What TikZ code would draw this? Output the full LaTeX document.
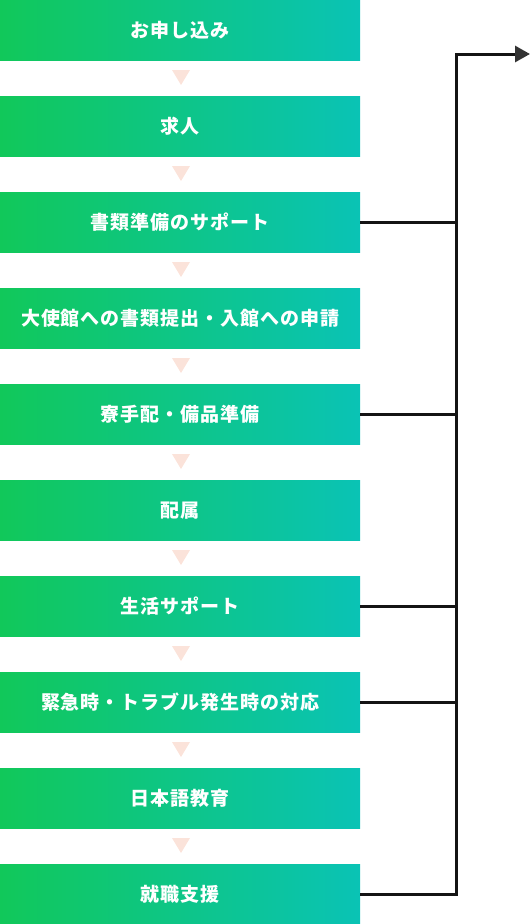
\documentclass[tikz,border=0pt]{standalone}
\usepackage{fontspec}
\newfontfamily\jp[LetterSpace=5]{Noto Sans CJK JP}
\usetikzlibrary{arrows.meta}
\definecolor{gL}{HTML}{11C85A}
\definecolor{gR}{HTML}{0AC3B5}
\definecolor{tri}{HTML}{FBE3DA}
\definecolor{ln}{HTML}{141414}
\definecolor{tip}{HTML}{333333}
\begin{document}
\begin{tikzpicture}[x=1pt,y=-1pt,
  stepbox/.style={minimum width=360pt,minimum height=60pt,inner sep=0pt,
    left color=gL,right color=gR,text=white,
    font=\jp\fontsize{19}{22}\selectfont\bfseries,anchor=north west},
  tridown/.style={fill=tri},
  conn/.style={draw=ln,line width=3pt}]
\useasboundingbox (0,0) rectangle (530,924);
\foreach \i/\t in {0/お申し込み,1/求人,2/書類準備のサポート,3/大使館への書類提出・入館への申請,4/寮手配・備品準備,5/配属,6/生活サポート,7/緊急時・トラブル発生時の対応,8/日本語教育,9/就職支援}{
  \node[stepbox] (b\i) at (0,{96*\i}) {\raisebox{-1pt}{\t}};
}
\foreach \i in {0,...,8}{
  \fill[tridown] (172,{96*\i+70}) -- (190,{96*\i+70}) -- (181,{96*\i+85}) -- cycle;
}
\coordinate (top) at (456,54);
\coordinate (endp) at (530,54);
\draw[conn,-{Triangle[length=15pt,width=16pt,fill=tip,color=tip]}] (b9.east) -| (top) -- (endp);
\foreach \i in {2,4,6,7}{
  \draw[conn] (b\i.east) -- (b\i.east -| top);
}
\end{tikzpicture}
\end{document}
